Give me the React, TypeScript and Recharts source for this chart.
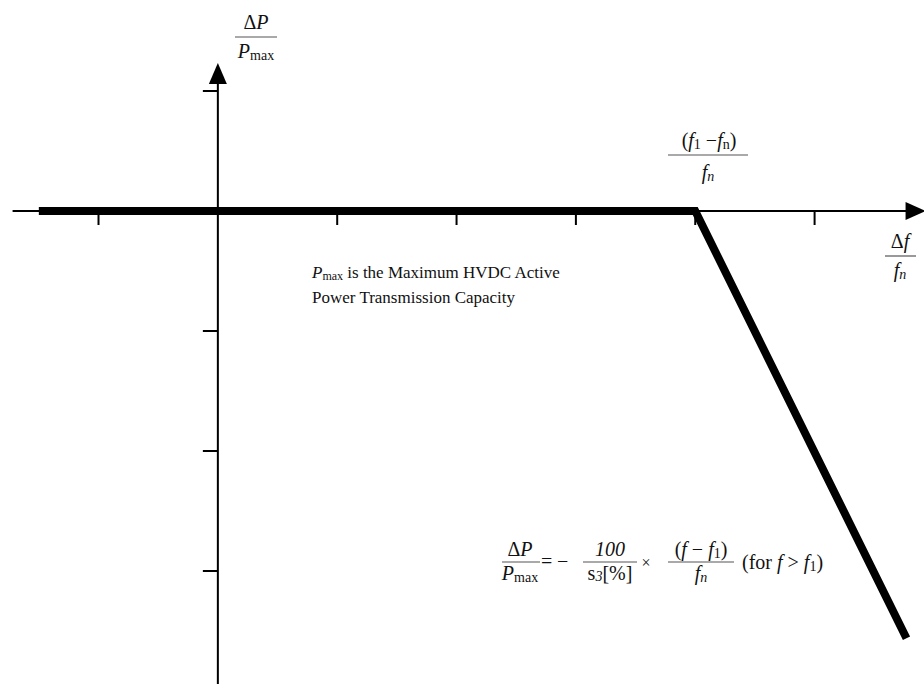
import React from "react";
import {
  LineChart,
  Line,
  XAxis,
  YAxis,
  ReferenceLine,
  ReferenceDot,
} from "recharts";

// droop curve: flat up to (f1 - fn)/fn, then falls with slope -100/s3
const curveX = [-1.5, 4, 5.77];
const curveY = [0, 0, -3.56];

const xTicks = [-1, 1, 2, 3, 4, 5];
const yTicks = [1, -1, -2, -3];

const noteLine1 = "is the Maximum HVDC Active";
const noteLine2 = "Power Transmission Capacity";

const data = curveX.map((x, i) => ({ x, y: curveY[i] }));

const FONT = "'Liberation Serif', 'DejaVu Serif', serif";

function XTick(props: any) {
  const { cx, cy } = props;
  return <line x1={cx} y1={cy} x2={cx} y2={cy + 14} stroke="#000" strokeWidth={2} />;
}

function YTick(props: any) {
  const { cx, cy } = props;
  return <line x1={cx - 15} y1={cy} x2={cx} y2={cy} stroke="#000" strokeWidth={2} />;
}

function UpArrow(props: any) {
  const { cx, cy } = props;
  return <polygon points={`${cx},${cy} ${cx - 9},${cy + 21} ${cx + 9},${cy + 21}`} fill="#000" />;
}

function RightArrow(props: any) {
  const { cx, cy } = props;
  return <polygon points={`${cx},${cy} ${cx - 20},${cy - 9} ${cx - 20},${cy + 9}`} fill="#000" />;
}

function Annotations() {
  const t = { fontFamily: FONT, fontSize: 20, fill: "#111" } as const;
  const sub = 14;
  return (
    <svg
      width={924}
      height={684}
      style={{ position: "absolute", left: 0, top: 0, pointerEvents: "none" }}
    >
      {/* y axis label */}
      <text {...t} x={256} y={29} textAnchor="middle">
        Δ<tspan fontStyle="italic">P</tspan>
      </text>
      <line x1={235} y1={37} x2={277} y2={37} stroke="#555" strokeWidth={1.2} />
      <text {...t} x={256} y={58} textAnchor="middle">
        <tspan fontStyle="italic">P</tspan>
        <tspan fontSize={sub} dy={2}>max</tspan>
      </text>

      {/* knee label */}
      <text {...t} x={709} y={147} textAnchor="middle">
        (<tspan fontStyle="italic">f</tspan>
        <tspan fontSize={sub} dy={2}>1</tspan>
        <tspan dy={-2}> −</tspan>
        <tspan fontStyle="italic">f</tspan>
        <tspan fontSize={sub} dy={2}>n</tspan>
        <tspan dy={-2}>)</tspan>
      </text>
      <line x1={668} y1={155} x2={748} y2={155} stroke="#555" strokeWidth={1.2} />
      <text {...t} x={708} y={179} textAnchor="middle">
        <tspan fontStyle="italic">f</tspan>
        <tspan fontSize={sub} dy={2} fontStyle="italic">n</tspan>
      </text>

      {/* x axis label */}
      <text {...t} x={900} y={248} textAnchor="middle">
        Δ<tspan fontStyle="italic">f</tspan>
      </text>
      <line x1={885} y1={256} x2={916} y2={256} stroke="#555" strokeWidth={1.2} />
      <text {...t} x={900} y={277} textAnchor="middle">
        <tspan fontStyle="italic">f</tspan>
        <tspan fontSize={sub} dy={2} fontStyle="italic">n</tspan>
      </text>

      {/* note */}
      <text {...t} fontSize={17} x={312} y={278}>
        <tspan fontStyle="italic">P</tspan>
        <tspan fontSize={12} dy={2}>max</tspan>
        <tspan dy={-2}> {noteLine1}</tspan>
      </text>
      <text {...t} fontSize={17} x={312} y={303}>
        {noteLine2}
      </text>

      {/* formula */}
      <text {...t} x={520} y={556} textAnchor="middle">
        Δ<tspan fontStyle="italic">P</tspan>
      </text>
      <line x1={502} y1={562} x2={540} y2={562} stroke="#555" strokeWidth={1.2} />
      <text {...t} x={520} y={580} textAnchor="middle">
        <tspan fontStyle="italic">P</tspan>
        <tspan fontSize={sub} dy={2}>max</tspan>
      </text>
      <text {...t} x={541} y={568}>=</text>
      <text {...t} x={557} y={568}>−</text>
      <text {...t} x={610} y={556} textAnchor="middle" fontStyle="italic">
        100
      </text>
      <line x1={583} y1={562} x2={637} y2={562} stroke="#555" strokeWidth={1.2} />
      <text {...t} x={610} y={580} textAnchor="middle">
        s<tspan fontSize={sub} dy={1} fontStyle="italic">3</tspan>
        <tspan dy={-1}>[%]</tspan>
      </text>
      <text {...t} fontSize={16} x={646} y={568} textAnchor="middle">×</text>
      <text {...t} x={701} y={556} textAnchor="middle">
        (<tspan fontStyle="italic">f</tspan> − <tspan fontStyle="italic">f</tspan>
        <tspan fontSize={sub} dy={2}>1</tspan>
        <tspan dy={-2}>)</tspan>
      </text>
      <line x1={668} y1={562} x2={734} y2={562} stroke="#555" strokeWidth={1.2} />
      <text {...t} x={701} y={580} textAnchor="middle">
        <tspan fontStyle="italic">f</tspan>
        <tspan fontSize={sub} dy={2} fontStyle="italic">n</tspan>
      </text>
      <text {...t} x={742} y={569}>
        (for <tspan fontStyle="italic">f</tspan> &gt; <tspan fontStyle="italic">f</tspan>
        <tspan fontSize={sub} dy={2}>1</tspan>
        <tspan dy={-2}>)</tspan>
      </text>
    </svg>
  );
}

export default function App() {
  return (
    <div style={{ position: "absolute", left: 0, top: 0, width: 924, height: 684, background: "#fff" }}>
      <LineChart
        width={924}
        height={684}
        data={data}
        margin={{ top: 1, right: 2, bottom: 5, left: 9 }}
      >
        <XAxis type="number" dataKey="x" domain={[-1.75, 5.9]} hide />
        <YAxis type="number" domain={[-3.9, 1.75]} hide />
        <ReferenceLine
          segment={[{ x: -1.72, y: 0 }, { x: 5.8, y: 0 }]}
          stroke="#000"
          strokeWidth={2}
          ifOverflow="visible"
        />
        <ReferenceLine
          segment={[{ x: 0, y: -3.96 }, { x: 0, y: 1.1 }]}
          stroke="#000"
          strokeWidth={2}
          ifOverflow="visible"
        />
        {xTicks.map((t) => (
          <ReferenceDot key={`xt${t}`} x={t} y={0} r={1} shape={XTick} />
        ))}
        {yTicks.map((t) => (
          <ReferenceDot key={`yt${t}`} x={0} y={t} r={1} shape={YTick} />
        ))}
        <ReferenceDot x={0} y={1.233} r={1} shape={UpArrow} ifOverflow="visible" />
        <ReferenceDot x={5.93} y={0} r={1} shape={RightArrow} ifOverflow="visible" />
        <Line
          type="linear"
          dataKey="y"
          stroke="#000"
          strokeWidth={8}
          strokeLinejoin="miter"
          dot={false}
          activeDot={false}
          isAnimationActive={false}
        />
      </LineChart>
      <Annotations />
    </div>
  );
}
